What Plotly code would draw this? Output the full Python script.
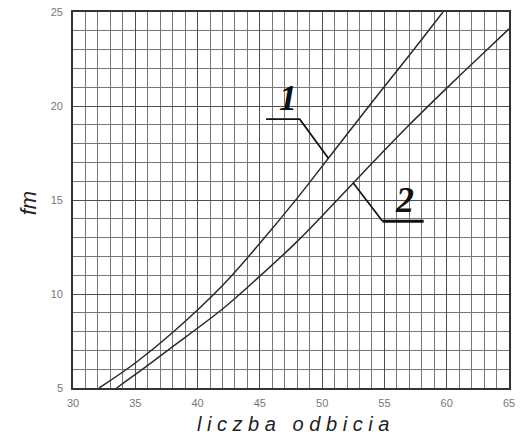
import numpy as np
import plotly.graph_objects as go

# Curve 1 and curve 2: fm against "liczba odbicia"
curve1_x = [32.1, 35.0, 38.0, 42.0, 45.0, 48.0, 51.0, 54.0, 57.0, 59.7]
curve1_y = [5.0, 6.33, 7.95, 10.45, 12.7, 15.1, 17.65, 20.2, 22.7, 25.0]

curve2_x = [33.5, 36.0, 38.0, 42.0, 45.0, 48.0, 51.0, 54.0, 57.0, 60.0, 63.0, 65.0]
curve2_y = [5.0, 6.2, 7.2, 9.2, 10.95, 12.8, 14.85, 16.95, 19.0, 20.95, 22.85, 24.1]

x_ticks = [30, 35, 40, 45, 50, 55, 60, 65]
y_ticks = [5, 10, 15, 20, 25]
curve_names = ["1", "2"]

LINE = "#2a2a2a"

fig = go.Figure()
for cx, cy, name in [(curve1_x, curve1_y, curve_names[0]),
                     (curve2_x, curve2_y, curve_names[1])]:
    fig.add_trace(go.Scatter(
        x=cx, y=cy, mode="lines", name=name,
        line=dict(color=LINE, width=1.5, shape="spline", smoothing=1.0),
        showlegend=False, hoverinfo="skip",
    ))

# Leader lines from the curve labels to the curves
anchor1_x = 50.5
anchor1_y = float(np.interp(anchor1_x, curve1_x, curve1_y))
anchor2_x = 52.5
anchor2_y = float(np.interp(anchor2_x, curve2_x, curve2_y))

fig.add_shape(type="path",
              path=f"M 45.5 19.3 L 48.2 19.3 L {anchor1_x} {anchor1_y}",
              line=dict(color="#111", width=1.7), layer="above")
fig.add_shape(type="line", x0=54.85, y0=13.87, x1=58.15, y1=13.87,
              line=dict(color="#111", width=3), layer="above")
fig.add_shape(type="line", x0=anchor2_x, y0=anchor2_y, x1=54.85, y1=13.87,
              line=dict(color="#111", width=1.7), layer="above")

label_font = dict(family="Liberation Serif", size=36, color="#111",
                  weight="bold", style="italic")
fig.add_annotation(x=47.25, y=20.4, text=curve_names[0], showarrow=False,
                   font=label_font, xanchor="center", yanchor="middle")
fig.add_annotation(x=56.65, y=15.0, text=curve_names[1], showarrow=False,
                   font=label_font, xanchor="center", yanchor="middle")

# Axis titles
fig.add_annotation(xref="paper", yref="paper", x=-0.102, y=0.49,
                   text="fm", textangle=-90, showarrow=False,
                   font=dict(family="Liberation Sans", size=22, color="#222",
                             style="italic"),
                   xanchor="center", yanchor="middle")
fig.add_annotation(xref="paper", yref="paper", x=0.505, y=-0.097,
                   text="l i c z b a   o d b i c i a", showarrow=False,
                   font=dict(family="Liberation Sans", size=20, color="#222",
                             style="italic"),
                   xanchor="center", yanchor="middle")

grid_axis = dict(
    showgrid=True, gridcolor="#4e4e4e", gridwidth=1.4,
    showline=True, linecolor="#333", linewidth=1.6, mirror=True,
    zeroline=False, ticks="",
    tickfont=dict(family="Liberation Sans", size=11, color="#777"),
    minor=dict(dtick=1, showgrid=True, gridcolor="#767676", gridwidth=1),
)

fig.update_xaxes(range=[30, 65], tickvals=x_ticks, ticklabelstandoff=4,
                 **grid_axis)
fig.update_yaxes(range=[5, 25], tickvals=y_ticks, ticklabelstandoff=6,
                 **grid_axis)

fig.update_layout(
    width=520, height=444,
    margin=dict(l=73, r=5, t=12, b=56),
    paper_bgcolor="white", plot_bgcolor="white",
)

fig.write_html("out.html")
